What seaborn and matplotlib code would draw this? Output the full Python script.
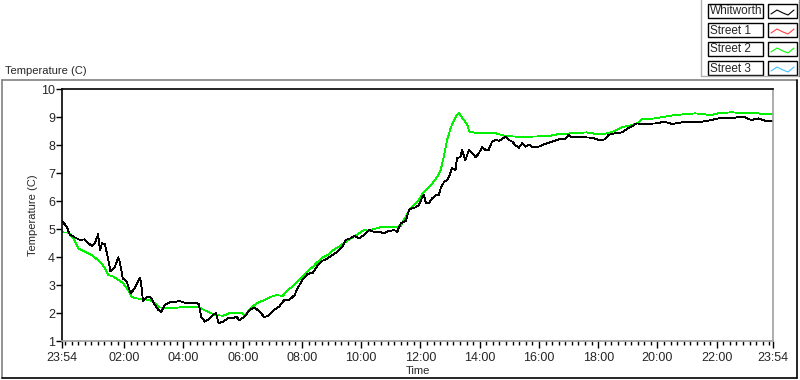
import numpy as np
import pandas as pd
import matplotlib
matplotlib.use("Agg")
import matplotlib.pyplot as plt
from matplotlib.lines import Line2D
from matplotlib.patches import Rectangle
from matplotlib.ticker import FixedLocator
import seaborn as sns

# ---- data: minutes after 23:54 and temperature (C) ----
whit_min = [0, 9.5, 16, 26, 36, 46, 50, 60, 67, 73, 77, 81, 87, 94, 98, 107, 114, 117, 123, 131,
            139, 147, 158, 161, 164, 172, 179, 186, 194, 201, 208, 218, 228, 238, 248, 259, 269,
            277, 282, 289, 295, 306, 312, 317, 326, 336, 346, 353, 359, 370, 380, 390, 400, 410,
            420, 430, 440, 450, 460, 471, 477, 487, 497, 508, 518, 528, 538, 548, 558, 568, 575,
            585, 592, 602, 612, 622, 632, 642, 652, 662, 673, 679, 686, 696, 703, 709, 716, 723,
            730, 733, 737, 743, 750, 757, 763, 767, 774, 780, 784, 790, 797, 800, 807, 810, 817,
            824, 831, 838, 844, 851, 858, 864, 871, 878, 885, 891, 898, 905, 912, 918, 925, 932,
            939, 945, 952, 965, 979, 992, 1006, 1019, 1026, 1033, 1046, 1063, 1073, 1087, 1100,
            1107, 1120, 1134, 1147, 1164, 1181, 1201, 1221, 1235, 1262, 1289, 1315, 1329, 1349,
            1369, 1383, 1396, 1410, 1423, 1440]
whit_temp = [5.29, 5.08, 4.79, 4.70, 4.61, 4.63, 4.54, 4.40, 4.51, 4.81, 4.25, 4.49, 4.45, 3.89,
             3.48, 3.65, 3.99, 3.83, 3.24, 3.12, 2.70, 2.88, 3.27, 2.94, 2.44, 2.56, 2.58, 2.35,
             2.13, 2.02, 2.29, 2.38, 2.39, 2.43, 2.37, 2.35, 2.37, 2.32, 1.87, 1.69, 1.75, 1.93,
             1.99, 1.63, 1.69, 1.81, 1.81, 1.87, 1.75, 1.87, 2.11, 2.20, 2.05, 1.85, 1.93, 2.11,
             2.23, 2.46, 2.46, 2.64, 2.88, 3.18, 3.39, 3.44, 3.71, 3.87, 3.95, 4.07, 4.19, 4.37,
             4.61, 4.67, 4.75, 4.67, 4.79, 4.96, 4.90, 4.90, 4.85, 4.93, 4.96, 4.90, 5.20, 5.28,
             5.68, 5.74, 5.77, 5.86, 6.15, 6.21, 5.92, 5.92, 6.10, 6.21, 6.21, 6.45, 6.69, 6.75,
             6.87, 7.17, 7.11, 7.52, 7.58, 7.82, 7.46, 7.82, 7.70, 7.56, 7.70, 7.92, 7.82, 7.82,
             8.12, 8.18, 8.15, 8.21, 8.30, 8.18, 8.12, 8.00, 7.90, 8.06, 7.94, 8.02, 7.94, 7.94,
             8.04, 8.12, 8.20, 8.20, 8.36, 8.27, 8.30, 8.27, 8.26, 8.18, 8.20, 8.36, 8.42, 8.45,
             8.60, 8.77, 8.75, 8.77, 8.83, 8.75, 8.83, 8.81, 8.89, 8.95, 8.95, 8.99, 8.99, 8.89,
             8.95, 8.87, 8.87]

street2_min = [0, 13, 23, 33, 46, 60, 73, 83, 94, 104, 114, 124, 134, 141, 151, 164, 178, 188,
               198, 218, 238, 265, 279, 285, 299, 312, 326, 339, 363, 370, 380, 390, 400, 410,
               420, 434, 447, 457, 467, 477, 487, 497, 508, 518, 528, 538, 548, 561, 575, 588,
               602, 612, 622, 636, 649, 662, 676, 686, 696, 703, 713, 723, 730, 740, 750, 760,
               767, 774, 780, 787, 794, 800, 804, 807, 814, 821, 825, 834, 844, 878, 898, 918,
               952, 986, 1006, 1033, 1063, 1087, 1107, 1120, 1137, 1154, 1167, 1174, 1201, 1241,
               1282, 1315, 1329, 1356, 1383, 1403, 1416, 1440]
street2_temp = [4.88, 4.87, 4.67, 4.31, 4.19, 4.07, 3.89, 3.71, 3.36, 3.30, 3.18, 3.06, 2.82,
                2.58, 2.52, 2.50, 2.46, 2.35, 2.20, 2.17, 2.20, 2.21, 2.20, 2.13, 2.01, 1.93,
                1.90, 1.99, 2.01, 1.93, 2.11, 2.29, 2.40, 2.46, 2.56, 2.64, 2.61, 2.82, 2.94,
                3.12, 3.30, 3.48, 3.65, 3.83, 3.98, 4.07, 4.23, 4.37, 4.55, 4.70, 4.85, 4.96,
                4.94, 5.02, 5.08, 5.08, 5.06, 5.11, 5.44, 5.68, 5.86, 6.04, 6.27, 6.45, 6.63,
                6.87, 7.11, 7.64, 8.18, 8.60, 8.89, 9.07, 9.15, 9.07, 8.89, 8.71, 8.48, 8.45,
                8.42, 8.42, 8.32, 8.30, 8.30, 8.32, 8.39, 8.42, 8.45, 8.38, 8.42, 8.51, 8.65,
                8.71, 8.79, 8.92, 8.95, 9.07, 9.13, 9.07, 9.13, 9.17, 9.13, 9.15, 9.11, 9.11]

legend_names = ["Whitworth", "Street 1", "Street 2", "Street 3"]
legend_colors = ["#000000", "#ff4040", "#00ff00", "#40c0ff"]

x_tick_minutes = [0, 126, 246, 366, 486, 606, 726, 846, 966, 1086, 1206, 1326, 1440]
x_tick_labels = ["23:54", "02:00", "04:00", "06:00", "08:00", "10:00", "12:00", "14:00",
                 "16:00", "18:00", "20:00", "22:00", "23:54"]
y_ticks = [1, 2, 3, 4, 5, 6, 7, 8, 9, 10]

df = pd.concat([
    pd.DataFrame({"Time": whit_min, "Temperature": whit_temp, "Sensor": "Whitworth"}),
    pd.DataFrame({"Time": street2_min, "Temperature": street2_temp, "Sensor": "Street 2"}),
])

sns.set_style("white")
plt.rcParams["font.family"] = ["Liberation Sans", "DejaVu Sans"]

W, H = 800, 380
fig = plt.figure(figsize=(W / 100, H / 100), dpi=100)

def fx(x):
    return x / W

def fy(y):
    return 1 - y / H

ax = fig.add_axes([fx(62), fy(341), fx(773) - fx(62), fy(89) - fy(341)])
sns.lineplot(data=df, x="Time", y="Temperature", hue="Sensor",
             palette={"Whitworth": "#000000", "Street 2": "#00f000"},
             hue_order=["Street 2", "Whitworth"], sort=False, estimator=None,
             linewidth=0.6, legend=False, ax=ax)
for ln in ax.lines:
    ln.set_antialiased(False)

ax.set_xlim(0, 1440)
ax.set_ylim(1, 10)
ax.set_yticks(y_ticks)
ax.set_yticklabels([str(v) for v in y_ticks])
ax.set_xticks(x_tick_minutes)
ax.set_xticklabels(x_tick_labels)
minor = [6 + k * 120 / 9 for k in range(0, 200) if 6 + k * 120 / 9 <= 1440]
ax.xaxis.set_minor_locator(FixedLocator(minor))
ax.tick_params(axis="y", which="major", left=True, length=4, width=1, color="black",
               labelsize=9, pad=1, direction="out")
ax.tick_params(axis="x", which="major", bottom=True, length=5, width=1, color="black",
               labelsize=9, pad=3, direction="out")
ax.tick_params(axis="x", which="minor", bottom=True, length=3, width=1, color="black",
               direction="out")
ax.set_xlabel("Time", fontsize=8, labelpad=1)
ax.set_ylabel("Temperature (C)", fontsize=8, labelpad=2)
for s in ["left", "top"]:
    ax.spines[s].set_color("black")
    ax.spines[s].set_linewidth(1.2)
for s in ["right", "bottom"]:
    ax.spines[s].set_color("#a0a0a0")
    ax.spines[s].set_linewidth(1.2)

# title above chart frame
fig.text(fx(5), fy(71), "Temperature (C)", fontsize=8, ha="left", va="center")

# outer sunken frame
fig.add_artist(Line2D([fx(2), fx(797)], [fy(80), fy(80)], color="#808080", lw=1.2))
fig.add_artist(Line2D([fx(2), fx(2)], [fy(80), fy(378)], color="#808080", lw=1.2))
fig.add_artist(Line2D([fx(2), fx(797)], [fy(378), fy(378)], color="black", lw=1.2))
fig.add_artist(Line2D([fx(797), fx(797)], [fy(80), fy(378)], color="black", lw=1.2))

# legend (LabVIEW style)
fig.add_artist(Line2D([fx(701), fx(701)], [fy(0), fy(76)], color="#b0b0b0", lw=1))
fig.add_artist(Line2D([fx(701), fx(799)], [fy(76), fy(76)], color="#b0b0b0", lw=1))
fig.add_artist(Line2D([fx(799), fx(799)], [fy(0), fy(76)], color="#808080", lw=1))
tops = [4, 23, 42, 61]
for name, col, t in zip(legend_names, legend_colors, tops):
    fig.add_artist(Rectangle((fx(708), fy(t + 14)), fx(763) - fx(708), fy(t) - fy(t + 14),
                             facecolor="white", edgecolor="black", lw=1))
    fig.text(fx(710), fy(t + 7.5), name, fontsize=8.5, ha="left", va="center")
    fig.add_artist(Rectangle((fx(768), fy(t + 14)), fx(797) - fx(768), fy(t) - fy(t + 14),
                             facecolor="white", edgecolor="black", lw=1))
    zx = [771, 777, 783, 788, 794]
    zy = [t + 10, t + 6, t + 9, t + 11, t + 6]
    fig.add_artist(Line2D([fx(v) for v in zx], [fy(v) for v in zy], color=col, lw=0.8))

fig.savefig("out.png", dpi=100, facecolor="white")
